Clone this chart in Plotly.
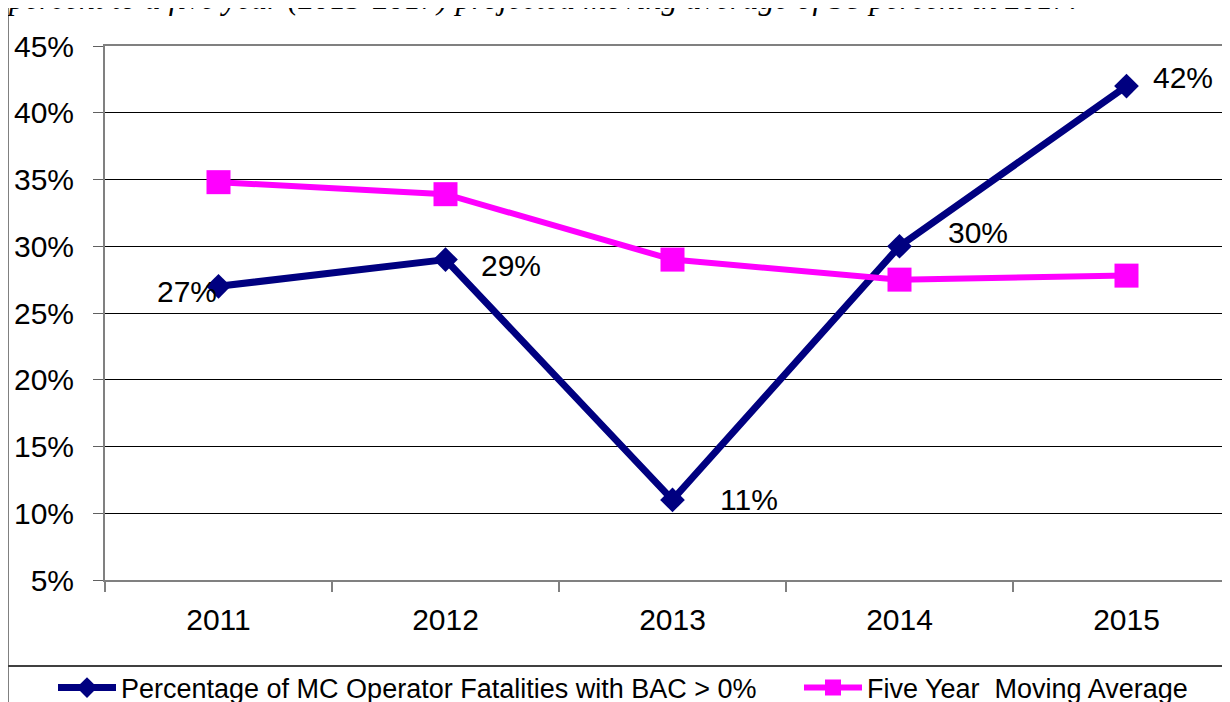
import plotly.graph_objects as go

years = ["2011", "2012", "2013", "2014", "2015"]
bac_pct = [27, 29, 11, 30, 42]
moving_avg = [34.8, 33.9, 29.0, 27.5, 27.8]
bac_labels = ["27%", "29%", "11%", "30%", "42%"]
y_ticks = [5, 10, 15, 20, 25, 30, 35, 40, 45]
y_ticktext = ["5%", "10%", "15%", "20%", "25%", "30%", "35%", "40%", "45%"]

# label offsets (px) relative to the data point
label_dx = [-32, 65, 76, 78, 56]
label_dy = [-5, -6, 0, 14, 9]

FONT = "Liberation Sans, Arial, sans-serif"
OFF = 8  # page body margin of the html page
W, H = 1230 - OFF, 702 - OFF
ML, MT, MB, MR = 105 - OFF, 46 - OFF, 122, 0
PW = W - ML - MR
PH = H - MT - MB


def px_x(p):
    """screen x pixel -> paper coordinate"""
    return (p - OFF - ML) / PW


def px_y(p):
    """screen y pixel -> paper coordinate"""
    return (H - MB - (p - OFF)) / PH


fig = go.Figure()
fig.add_trace(go.Scatter(
    x=years, y=bac_pct, mode="lines+markers",
    name="Percentage of MC Operator Fatalities with BAC > 0%",
    line=dict(color="#000080", width=7),
    marker=dict(symbol="diamond", size=19, color="#000080"),
    legend="legend",
))
fig.add_trace(go.Scatter(
    x=years, y=moving_avg, mode="lines+markers",
    name="Five Year  Moving Average",
    line=dict(color="#FF00FF", width=6),
    marker=dict(symbol="square", size=24, color="#FF00FF"),
    legend="legend2",
))

for i, (v, t, dx, dy) in enumerate(zip(bac_pct, bac_labels, label_dx, label_dy)):
    fig.add_annotation(x=i, y=v, xref="x", yref="y", text=t, showarrow=False,
                       xshift=dx, yshift=dy,
                       font=dict(family=FONT, size=30, color="black"))

# cut-off text line at the very top
fig.add_annotation(xref="paper", yref="paper", x=px_x(5), y=px_y(-2),
                   xanchor="left", yanchor="middle", showarrow=False,
                   text="<i>percent to a five year (2013-2017) projected moving average of 38 percent in 2017.</i>",
                   font=dict(family="Liberation Serif, Times New Roman, serif", size=32, color="black"))

# outer border lines
fig.add_shape(type="line", xref="paper", yref="paper", x0=px_x(8), x1=px_x(8),
              y0=px_y(-10), y1=px_y(710), line=dict(color="#808080", width=2))
fig.add_shape(type="line", xref="paper", yref="paper", x0=px_x(8), x1=px_x(1240),
              y0=px_y(666), y1=px_y(666), line=dict(color="#404040", width=2))

legend_common = dict(orientation="h", xanchor="left", yanchor="middle",
                     y=px_y(688), font=dict(family=FONT, size=27, color="black"),
                     itemwidth=58, bgcolor="rgba(0,0,0,0)")

fig.update_layout(
    width=W, height=H,
    margin=dict(l=ML, r=MR, t=MT, b=MB, pad=0, autoexpand=False),
    paper_bgcolor="white", plot_bgcolor="white",
    font=dict(family=FONT, color="black"),
    showlegend=True,
    legend=dict(x=px_x(53), **legend_common),
    legend2=dict(x=px_x(799), **legend_common),
    xaxis=dict(type="category", range=[-0.5, PW / 227 - 0.5],
               showline=True, linecolor="#808080", linewidth=2, mirror=True,
               showgrid=False, ticks="outside", ticklen=10, tickcolor="#808080", tickwidth=2,
               tickson="boundaries", ticklabelstandoff=12,
               tickfont=dict(family=FONT, size=30, color="black")),
    yaxis=dict(range=[5, 45], tickvals=y_ticks, ticktext=y_ticktext,
               showline=True, linecolor="#808080", linewidth=2,
               showgrid=True, gridcolor="black", gridwidth=1, zeroline=False,
               ticks="outside", ticklen=10, tickcolor="#606060", tickwidth=1,
               ticklabelstandoff=13,
               tickfont=dict(family=FONT, size=30, color="black")),
)

fig.write_html("out.html")
